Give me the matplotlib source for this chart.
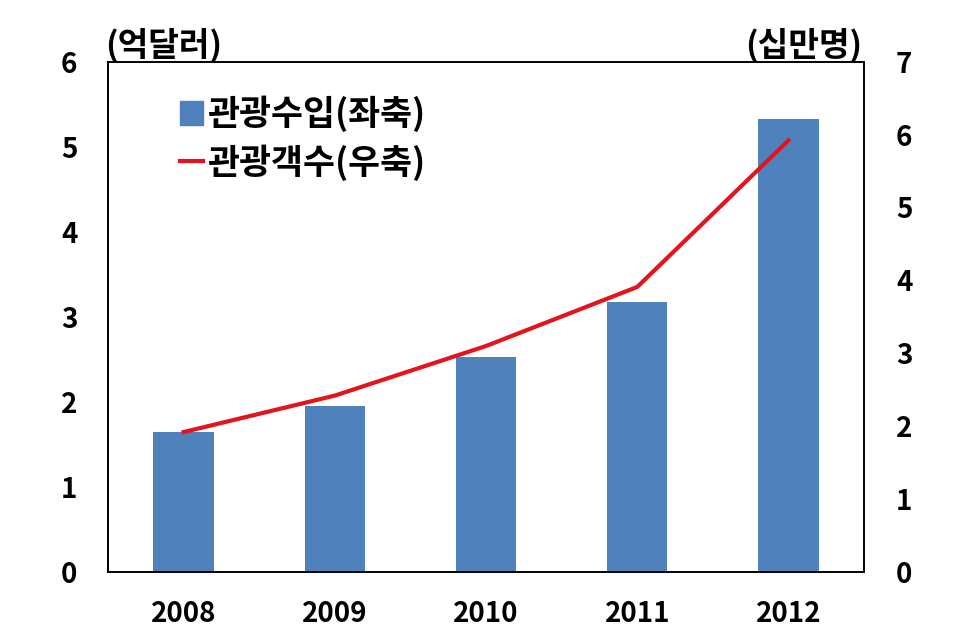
import matplotlib.pyplot as plt
from matplotlib.lines import Line2D
from matplotlib.patches import Patch

plt.rcParams['font.family'] = ['Noto Sans CJK KR', 'DejaVu Sans']
plt.rcParams['font.weight'] = 'bold'

# data
years = ['2008', '2009', '2010', '2011', '2012']
revenue = [1.65, 1.95, 2.53, 3.18, 5.33]     # 억달러 (left axis)
visitors = [1.92, 2.42, 3.10, 3.91, 5.92]    # 십만명 (right axis)

fig = plt.figure(figsize=(9.76, 6.38), dpi=100)
ax = fig.add_axes([0.1107, 0.1034, 0.7746, 0.800])
ax2 = ax.twinx()

x = range(len(years))
ax.bar(x, revenue, width=0.40, color='#4f81bd', zorder=2)
ax2.plot(x, visitors, color='#e3141c', lw=3, zorder=3)

ax.set_xlim(-0.5, 4.5)
ax.set_ylim(0, 6)
ax2.set_ylim(0, 7)
ax.set_xticks(list(x))
ax.set_xticklabels(years)
ax.set_yticks(range(7))
ax2.set_yticks(range(8))

for a in (ax, ax2):
    a.tick_params(length=0, labelsize=20)
    for s in a.spines.values():
        s.set_linewidth(1.2)
ax.tick_params(axis='y', pad=22)
ax2.tick_params(axis='y', pad=23)
ax.tick_params(axis='x', pad=20)

fig.text(0.108, 0.9295, '(억달러)', fontsize=24, ha='left', va='center', fontweight='bold')
fig.text(0.883, 0.9295, '(십만명)', fontsize=24, ha='right', va='center', fontweight='bold')

handles = [Patch(color='#4f81bd'), Line2D([], [], color='#e3141c', lw=3)]
ax.legend(handles, ['관광수입(좌축)', '관광객수(우축)'], loc='upper left',
          bbox_to_anchor=(0.054, 0.995), frameon=False,
          handlelength=0.65, handletextpad=0.12, labelspacing=0.35,
          prop={'weight': 'bold', 'size': 25})

fig.savefig('out.png', dpi=100)
